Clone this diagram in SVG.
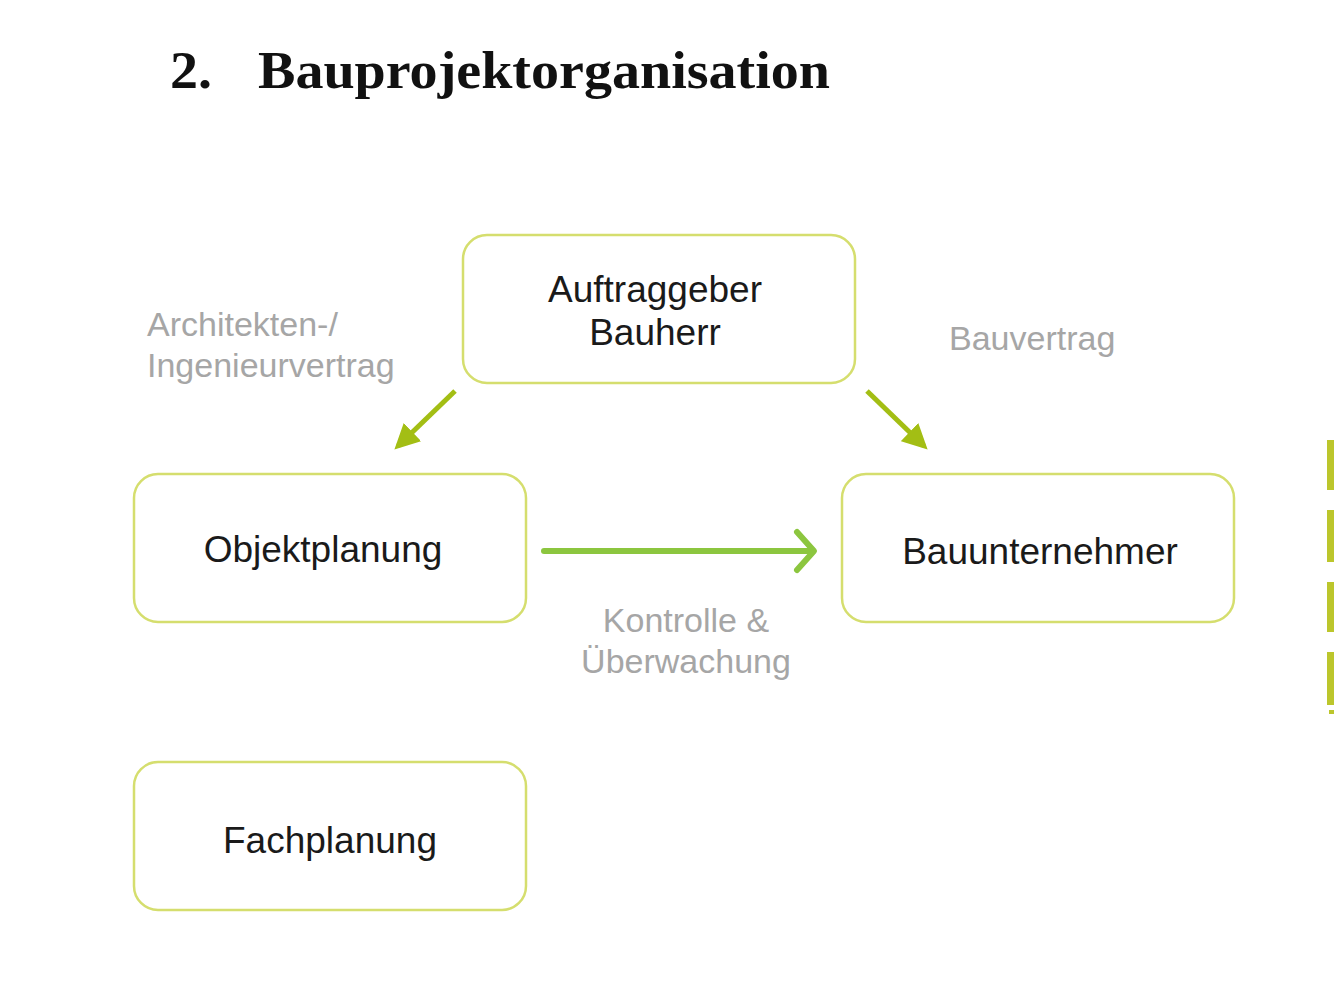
<svg xmlns="http://www.w3.org/2000/svg" width="1334" height="996" viewBox="0 0 1334 996">
<style>
.box{fill:#fff;stroke:#D5DE6E;stroke-width:2.5}
.lbl{font-family:"Liberation Sans",Arial,sans-serif;font-size:37px;fill:#1a1a1a;text-anchor:middle}
.note{font-family:"Liberation Sans",Arial,sans-serif;font-size:34px;fill:#a6a6a6}
.diag{stroke:#A3BE14;stroke-width:5;fill:none}
</style>
<defs>
<marker id="tri" viewBox="0 0 10 10" refX="8" refY="5" markerWidth="5" markerHeight="5" orient="auto" markerUnits="strokeWidth">
<path d="M0,0 L10,5 L0,10 z" fill="#A3BE14"/>
</marker>
</defs>
<rect width="1334" height="996" fill="#fff"/>
<text x="170" y="88" font-family="'Liberation Serif','Times New Roman',serif" font-weight="bold" font-size="52" fill="#111" textLength="42" lengthAdjust="spacingAndGlyphs">2.</text>
<text x="258" y="88" font-family="'Liberation Serif','Times New Roman',serif" font-weight="bold" font-size="52" fill="#111" textLength="572" lengthAdjust="spacingAndGlyphs">Bauprojektorganisation</text>
<g id="auftraggeber">
<rect class="box" x="463" y="235" width="392" height="148" rx="24"/>
<text class="lbl" x="655" y="302">Auftraggeber</text>
<text class="lbl" x="655" y="345">Bauherr</text>
</g>
<g id="objektplanung">
<rect class="box" x="134" y="474" width="392" height="148" rx="24"/>
<text class="lbl" x="323" y="562">Objektplanung</text>
</g>
<g id="bauunternehmer">
<rect class="box" x="842" y="474" width="392" height="148" rx="24"/>
<text class="lbl" x="1040" y="564">Bauunternehmer</text>
</g>
<g id="fachplanung">
<rect class="box" x="134" y="762" width="392" height="148" rx="24"/>
<text class="lbl" x="330" y="853">Fachplanung</text>
</g>
<g id="connectors">
<line class="diag" x1="455" y1="391" x2="398" y2="446" marker-end="url(#tri)"/>
<line class="diag" x1="867" y1="391" x2="924" y2="446" marker-end="url(#tri)"/>
<line x1="544" y1="551" x2="812" y2="551" stroke="#8CC63F" stroke-width="6" stroke-linecap="round"/>
<polyline points="797,532 814,551 797,570" fill="none" stroke="#8CC63F" stroke-width="6" stroke-linecap="round" stroke-linejoin="round"/>
</g>
<g id="labels">
<text class="note" x="147" y="336">Architekten-/</text>
<text class="note" x="147" y="377">Ingenieurvertrag</text>
<text class="note" x="949" y="350">Bauvertrag</text>
<text class="note" x="686" y="632" text-anchor="middle">Kontrolle &amp;</text>
<text class="note" x="686" y="673" text-anchor="middle">Überwachung</text>
</g>
<g id="edge-dashes" fill="#BCC62C">
<rect x="1327" y="440" width="7" height="50"/>
<rect x="1327" y="510" width="7" height="52"/>
<rect x="1327" y="582" width="7" height="50"/>
<rect x="1327" y="652" width="7" height="53"/>
<rect x="1329" y="710" width="5" height="4"/>
</g>
</svg>
